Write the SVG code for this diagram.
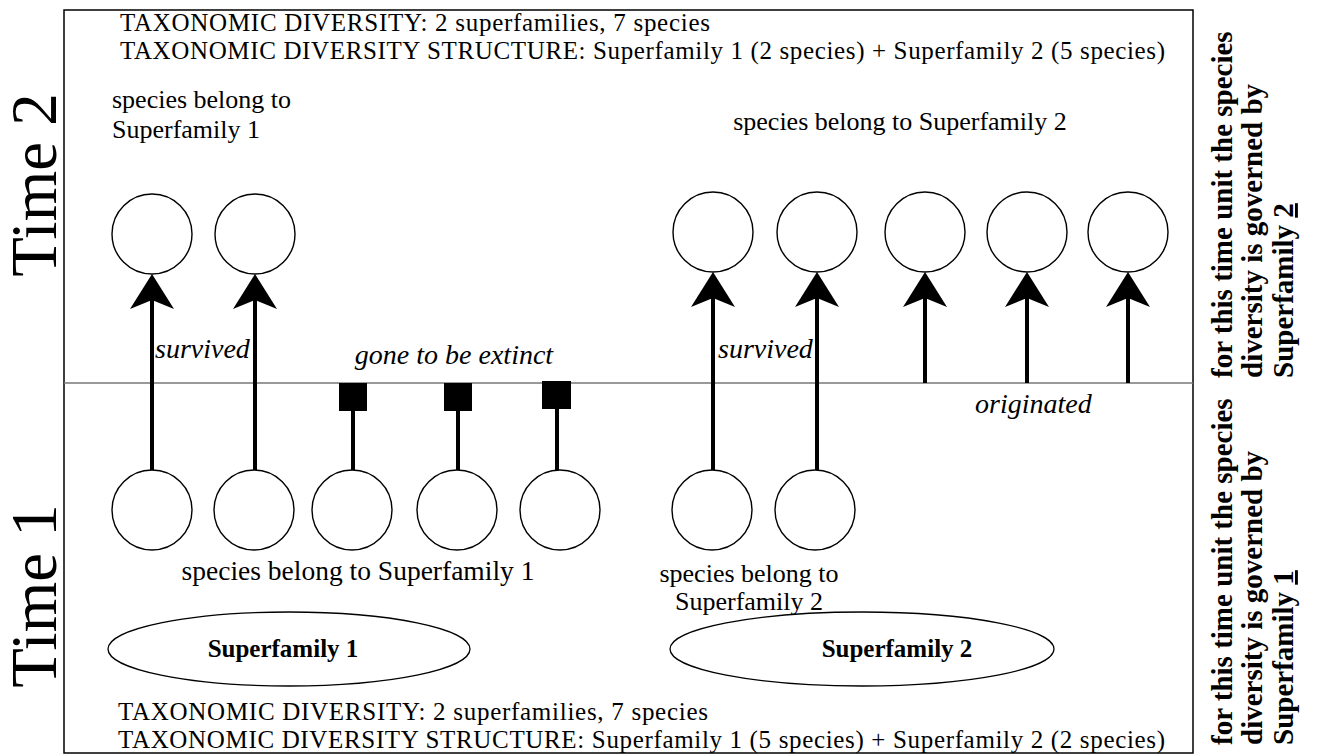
<svg xmlns="http://www.w3.org/2000/svg" width="1326" height="756" viewBox="0 0 1326 756">
<style>
.t{font-family:"Liberation Serif","Times New Roman",serif;fill:#000}
.hd{font-size:25px}
.lb{font-size:26px}
.it{font-size:28px;font-style:italic}
.bd{font-size:25px;font-weight:bold}
.side{font-size:29px;font-weight:bold}
.time{font-size:65px}
.sp{fill:#fff;stroke:#000;stroke-width:1.4}
.sh{stroke:#000;stroke-width:4;fill:none}
.ex{fill:#000}
</style>
<defs>
<marker id="ah" markerUnits="userSpaceOnUse" orient="auto" overflow="visible" refX="-26" refY="0" markerWidth="1" markerHeight="1">
<path d="M0,0 L-35,-22 L-26,0 L-35,22 Z" fill="#000"/>
</marker>
</defs>
<rect width="1326" height="756" fill="#fff"/>
<g id="frame">
<rect x="64" y="10" width="1129" height="743" fill="none" stroke="#000" stroke-width="1.5"/>
<line x1="64" y1="383" x2="1193" y2="383" stroke="#777" stroke-width="1.6"/>
</g>
<g id="headers">
<text class="t hd" x="120" y="31" textLength="590">TAXONOMIC DIVERSITY: 2 superfamilies, 7 species</text>
<text class="t hd" x="120" y="59" textLength="1045">TAXONOMIC DIVERSITY STRUCTURE: Superfamily 1 (2 species) + Superfamily 2 (5 species)</text>
<text class="t hd" x="118" y="720" textLength="590">TAXONOMIC DIVERSITY: 2 superfamilies, 7 species</text>
<text class="t hd" x="118" y="748" textLength="1047">TAXONOMIC DIVERSITY STRUCTURE: Superfamily 1 (5 species) + Superfamily 2 (2 species)</text>
</g>
<g id="time-labels">
<text class="t time" transform="translate(56,185) rotate(-90)" text-anchor="middle">Time 2</text>
<text class="t time" transform="translate(56,596) rotate(-90)" text-anchor="middle">Time 1</text>
</g>
<g id="side-notes">
<g transform="translate(1232,378) rotate(-90)">
<text class="t side" x="0" y="0">for this time unit the species</text>
<text class="t side" x="0" y="30">diversity is governed by</text>
<text class="t side" x="0" y="61">Superfamily <tspan text-decoration="underline">2</tspan></text>
</g>
<g transform="translate(1232,745) rotate(-90)">
<text class="t side" x="0" y="0">for this time unit the species</text>
<text class="t side" x="0" y="30">diversity is governed by</text>
<text class="t side" x="0" y="61">Superfamily <tspan text-decoration="underline">1</tspan></text>
</g>
</g>
<g id="time2-sf1-species">
<text class="t lb" x="112" y="108">species belong to</text>
<text class="t lb" x="112" y="138">Superfamily 1</text>
<circle class="sp" cx="152" cy="234" r="40"/>
<circle class="sp" cx="255" cy="234" r="40"/>
</g>
<g id="time2-sf2-species">
<text class="t lb" x="900" y="130" text-anchor="middle">species belong to Superfamily 2</text>
<circle class="sp" cx="713" cy="232" r="40"/>
<circle class="sp" cx="817" cy="232" r="40"/>
<circle class="sp" cx="925" cy="232" r="40"/>
<circle class="sp" cx="1027" cy="232" r="40"/>
<circle class="sp" cx="1128" cy="232" r="40"/>
</g>
<g id="time1-sf1-species">
<circle class="sp" cx="152" cy="510" r="40"/>
<circle class="sp" cx="254" cy="510" r="40"/>
<circle class="sp" cx="352" cy="510" r="40"/>
<circle class="sp" cx="457" cy="510" r="40"/>
<circle class="sp" cx="560" cy="510" r="40"/>
<text class="t lb" x="358" y="580" text-anchor="middle" style="font-size:27.5px">species belong to Superfamily 1</text>
</g>
<g id="time1-sf2-species">
<circle class="sp" cx="712" cy="510" r="40"/>
<circle class="sp" cx="815" cy="510" r="40"/>
<text class="t lb" x="749" y="582" text-anchor="middle">species belong to</text>
<text class="t lb" x="749" y="610" text-anchor="middle">Superfamily 2</text>
</g>
<g id="superfamily1">
<ellipse cx="289" cy="649" rx="181" ry="37" fill="#fff" stroke="#000" stroke-width="1.3"/>
<text class="t bd" x="283" y="657" text-anchor="middle">Superfamily 1</text>
</g>
<g id="superfamily2">
<ellipse cx="862" cy="649" rx="192" ry="37" fill="#fff" stroke="#000" stroke-width="1.3"/>
<text class="t bd" x="897" y="657" text-anchor="middle">Superfamily 2</text>
</g>
<g id="connectors">
<line class="sh" x1="152" y1="470" x2="152" y2="300" marker-end="url(#ah)"/>
<line class="sh" x1="255" y1="470" x2="255" y2="300" marker-end="url(#ah)"/>
<line class="sh" x1="713" y1="470" x2="713" y2="298" marker-end="url(#ah)"/>
<line class="sh" x1="817" y1="470" x2="817" y2="298" marker-end="url(#ah)"/>
<line class="sh" x1="925" y1="383" x2="925" y2="298" marker-end="url(#ah)"/>
<line class="sh" x1="1027" y1="383" x2="1027" y2="298" marker-end="url(#ah)"/>
<line class="sh" x1="1128" y1="383" x2="1128" y2="298" marker-end="url(#ah)"/>
<line class="sh" x1="353" y1="470" x2="353" y2="405"/>
<line class="sh" x1="458" y1="470" x2="458" y2="405"/>
<line class="sh" x1="557" y1="470" x2="557" y2="405"/>
<rect class="ex" x="339" y="383" width="28" height="28"/>
<rect class="ex" x="444" y="383" width="28" height="28"/>
<rect class="ex" x="542" y="381" width="29" height="28"/>
</g>
<g id="edge-labels">
<text class="t it" x="155" y="358">survived</text>
<text class="t it" x="718" y="358">survived</text>
<text class="t it" x="454" y="364" text-anchor="middle">gone to be extinct</text>
<text class="t it" x="975" y="413">originated</text>
</g>
</svg>
